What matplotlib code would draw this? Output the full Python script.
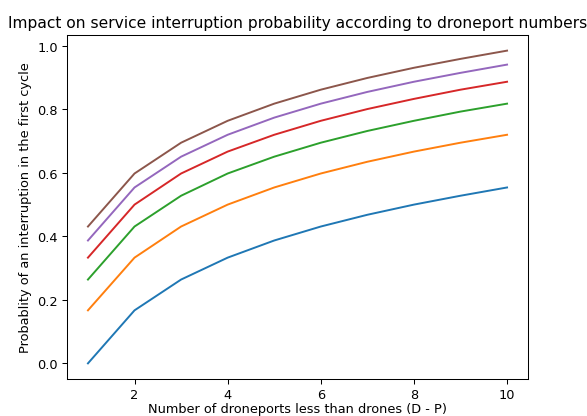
import matplotlib
matplotlib.use("Agg")
import matplotlib.pyplot as plt

# number of droneports less than drones
x = [1, 2, 3, 4, 5, 6, 7, 8, 9, 10]

# probability curves
p1 = [0.000, 0.167, 0.264, 0.333, 0.387, 0.431, 0.468, 0.500, 0.528, 0.554]
p2 = [0.167, 0.333, 0.431, 0.500, 0.554, 0.598, 0.635, 0.667, 0.695, 0.720]
p3 = [0.264, 0.431, 0.528, 0.598, 0.651, 0.695, 0.732, 0.764, 0.793, 0.818]
p4 = [0.333, 0.500, 0.598, 0.667, 0.720, 0.764, 0.801, 0.833, 0.862, 0.887]
p5 = [0.387, 0.554, 0.651, 0.720, 0.774, 0.818, 0.855, 0.887, 0.915, 0.941]
p6 = [0.431, 0.598, 0.695, 0.764, 0.818, 0.862, 0.899, 0.931, 0.959, 0.985]

W, H = 587, 417
fig = plt.figure(figsize=(W / 93, H / 93), dpi=93)
ax = fig.add_axes([67 / W, 1 - 380 / H, (528 - 67) / W, (380 - 36) / H])

for p in [p1, p2, p3, p4, p5, p6]:
    ax.plot(x, p)

ax.set_title("Impact on service interruption probability according to droneport numbers")
ax.set_xlabel("Number of droneports less than drones (D - P)", labelpad=1)
ax.set_ylabel("Probablity of an interruption in the first cycle")

fig.savefig("out.png", dpi=93)
